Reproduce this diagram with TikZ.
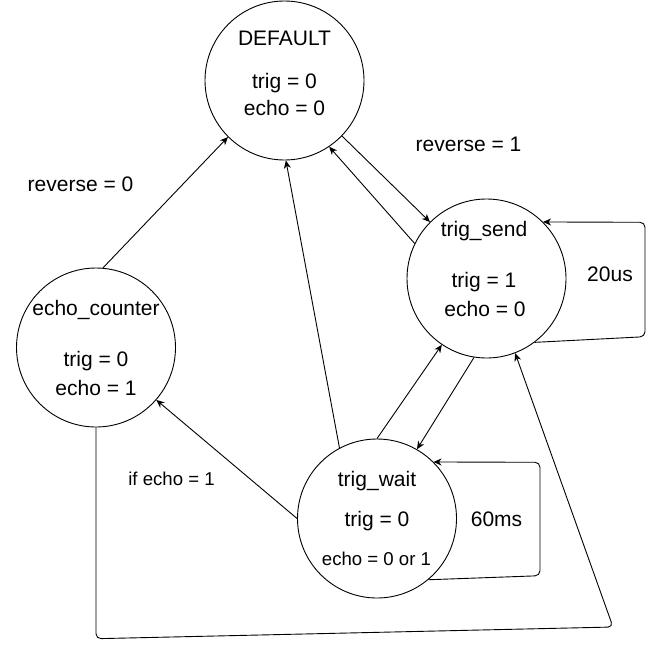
\documentclass[tikz,border=0pt]{standalone}
\usepackage{fontspec}
\setmainfont{Liberation Sans}
\usetikzlibrary{arrows.meta,calc}
\begin{document}
\begin{tikzpicture}[x=1pt,y=-1pt,
  state/.style={draw,circle,minimum size=159pt,inner sep=0pt,line width=0.9pt},
  big/.style={anchor=base,inner sep=0pt,font=\fontsize{21}{25}\selectfont},
  small/.style={anchor=base,inner sep=0pt,font=\fontsize{18.6}{22}\selectfont},
  conn/.style={line width=0.9pt,-{Stealth[length=8pt,width=7pt,inset=2.5pt]}},
  loopc/.style={conn,rounded corners=5pt}]
\useasboundingbox (0,0) rectangle (655,648);
% states
\node[state] (D) at (284.5,80.5) {};
\node[state] (S) at (486.5,278.5) {};
\node[state] (E) at (96,347.5) {};
\node[state] (W) at (377,518.5) {};
% texts in states
\node[big] (Dt) at (284.5,45.7) {DEFAULT};
\node[big] (Dtr) at (284.5,88.3) {trig = 0};
\node[big] (Dec) at (284.5,115.7) {echo = 0};
\node[big] (St) at (484,236.7) {trig\_send};
\node[big] (Str) at (484,287.3) {trig = 1};
\node[big] (Sec) at (485,316) {echo = 0};
\node[big] (Et) at (96,315) {echo\_counter};
\node[big] (Etr) at (96,366) {trig = 0};
\node[big] (Eec) at (96,395) {echo = 1};
\node[big] (Wt) at (377,486.7) {trig\_wait};
\node[big] (Wtr) at (377,526.7) {trig = 0};
\node[small] (Wec) at (376.5,565) {echo = 0 or 1};
% labels
\node[big] (l1) at (468.5,151.7) {reverse = 1};
\node[big] (l0) at (80.5,191.7) {reverse = 0};
\node[big] (l20) at (610,281.7) {20us};
\node[big] (l60) at (496.5,526.7) {60ms};
\node[small] (lif) at (171.5,485) {if echo = 1};
% corner coordinates
\coordinate (sl1) at (645,336.7);
\coordinate (sl2) at (645,222.3);
\coordinate (wl1) at (540,575.7);
\coordinate (wl2) at (540,462.3);
\coordinate (bl1) at (96,638.7);
\coordinate (bl2) at (613,627);
% connectors
\draw[conn] (E.85) -- (D.225);
\draw[conn] (W.118) -- (D.271);
\draw[conn] (D.316) -- (S.135);
\draw[conn] (S.154) -- (D.304);
\draw[conn] (W.90) -- (S.236);
\draw[conn] (S.261) -- (W.60.7);
\draw[conn] (W.180.5) -- (E.319);
\draw[loopc] (S.-53.5) -- (sl1) -- (sl2) -- (S.45);
\draw[loopc] (W.-50.5) -- (wl1) -- (wl2) -- (W.45);
\draw[loopc] (E.270) -- (bl1) -- (bl2) -- (S.291);
\end{tikzpicture}
\end{document}
